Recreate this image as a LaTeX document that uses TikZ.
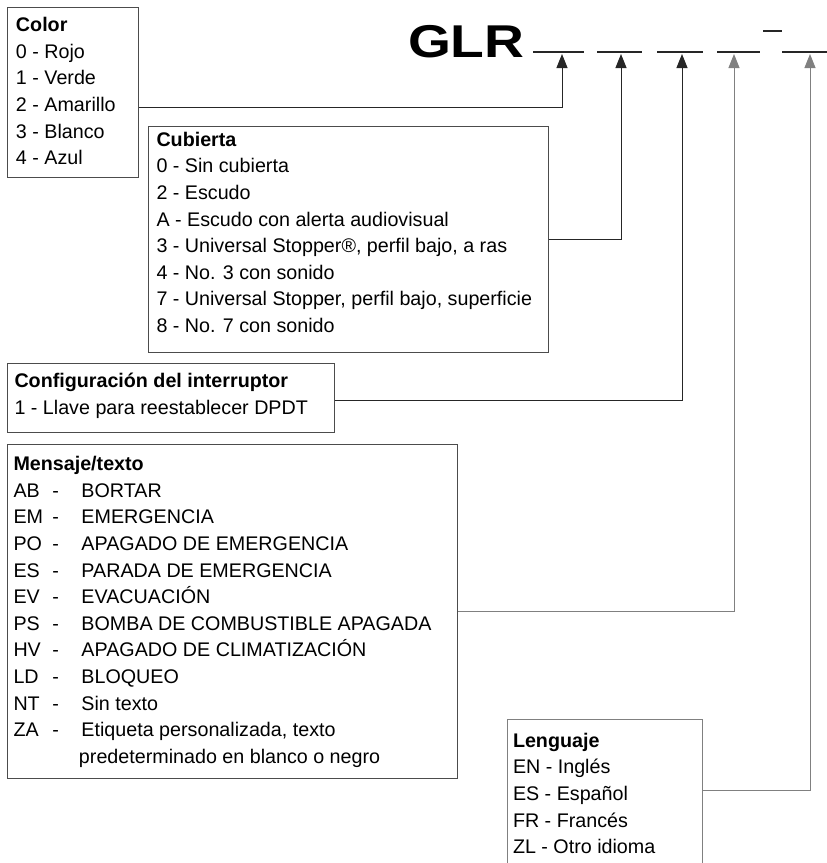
\documentclass[tikz,border=0pt]{standalone}
\usepackage{fontspec}
\setmainfont{Liberation Sans}
\usetikzlibrary{arrows.meta}

\definecolor{boxgray}{gray}{0.3}
\definecolor{linkdark}{gray}{0.15}
\definecolor{linkgray}{gray}{0.5}

% width, height, top gap, left gap, lines
\newcommand{\legendtext}[5]{\parbox[t][#2][t]{#1}{\vspace*{#3}\raggedright\leftskip=#4\relax #5}}
\newcommand{\code}[2]{\makebox[39pt][l]{#1}\makebox[29pt][l]{-}#2}

\tikzset{
  legend/.style={draw=boxgray,line width=1pt,inner sep=0pt,anchor=north west,
    font=\fontsize{19.7}{26.6}\selectfont},
  link/.style={draw=linkdark,line width=1pt,-{Triangle[length=14pt,width=11pt]}},
  slot/.style={line width=2.6pt,color=linkdark}
}

\begin{document}
\begin{tikzpicture}[x=1pt,y=-1pt,line width=1pt]

      \path[use as bounding box,clip] (0,0) rectangle (827,863);

      \path (407.5,57) node[anchor=base west,inner sep=0pt,font=\fontsize{46}{46}\bfseries\selectfont] (glr) {\scalebox{1.2}[1]{GLR}};

      \draw[slot] (533,52) -- (584,52);
      \draw[slot] (597,52) -- (642,52);
      \draw[slot] (657,52) -- (703,52);
      \draw[slot] (717,52) -- (760,52);
      \draw[slot] (763,31) -- (782,31);
      \draw[slot] (782,52) -- (827,52);

      \coordinate (s1) at (562,54);
      \coordinate (s2) at (621,54);
      \coordinate (s3) at (682,54);
      \coordinate (s4) at (734,54);
      \coordinate (s5) at (810,54);

      \path (6.5,6.5) node[legend] (color) {\legendtext{131.5pt}{170.5pt}{10.5pt}{9pt}{%
        \textbf{Color}\\0 - Rojo\\1 - Verde\\2 - Amarillo\\3 - Blanco\\4 - Azul}};
      \path (148,126) node[legend] (cubierta) {\legendtext{400pt}{225.5pt}{5.5pt}{8pt}{%
        \textbf{Cubierta}\\0 - Sin cubierta\\2 - Escudo\\A - Escudo con alerta audiovisual\\
        3 - Universal Stopper®, perfil bajo, a ras\\4 - No. 3 con sonido\\
        7 - Universal Stopper, perfil bajo, superficie\\8 - No. 7 con sonido}};
      \path (7,363) node[legend] (interruptor) {\legendtext{327pt}{69pt}{10pt}{7pt}{%
        \textbf{Configuración del interruptor}\\1 - Llave para reestablecer DPDT}};
      \path (7,444) node[legend] (mensaje) {\legendtext{450pt}{334pt}{12pt}{6pt}{%
        \textbf{Mensaje/texto}\\
        \code{AB}{BORTAR}\\
        \code{EM}{EMERGENCIA}\\
        \code{PO}{APAGADO DE EMERGENCIA}\\
        \code{ES}{PARADA DE EMERGENCIA}\\
        \code{EV}{EVACUACIÓN}\\
        \code{PS}{BOMBA DE COMBUSTIBLE APAGADA}\\
        \code{HV}{APAGADO DE CLIMATIZACIÓN}\\
        \code{LD}{BLOQUEO}\\
        \code{NT}{Sin texto}\\
        \code{ZA}{Etiqueta personalizada, texto}\\
        \hspace*{65.5pt}predeterminado en blanco o negro}};
      \path (507,719) node[legend,draw=linkgray] (lenguaje) {\legendtext{195pt}{160pt}{13.5pt}{5.5pt}{%
        \textbf{Lenguaje}\\EN - Inglés\\ES - Español\\FR - Francés\\ZL - Otro idioma}};

      \draw[link] ([yshift=-15.25pt]color.east) -| (s1);
      \draw[link] (cubierta.east) -| (s2);
      \draw[link] ([yshift=-2.5pt]interruptor.east) -| (s3);
      \draw[link,draw=linkgray] (mensaje.east) -| (s4);
      \draw[link,draw=linkgray] ([yshift=9pt]lenguaje.east) -| (s5);
   \end{tikzpicture}
\end{document}
